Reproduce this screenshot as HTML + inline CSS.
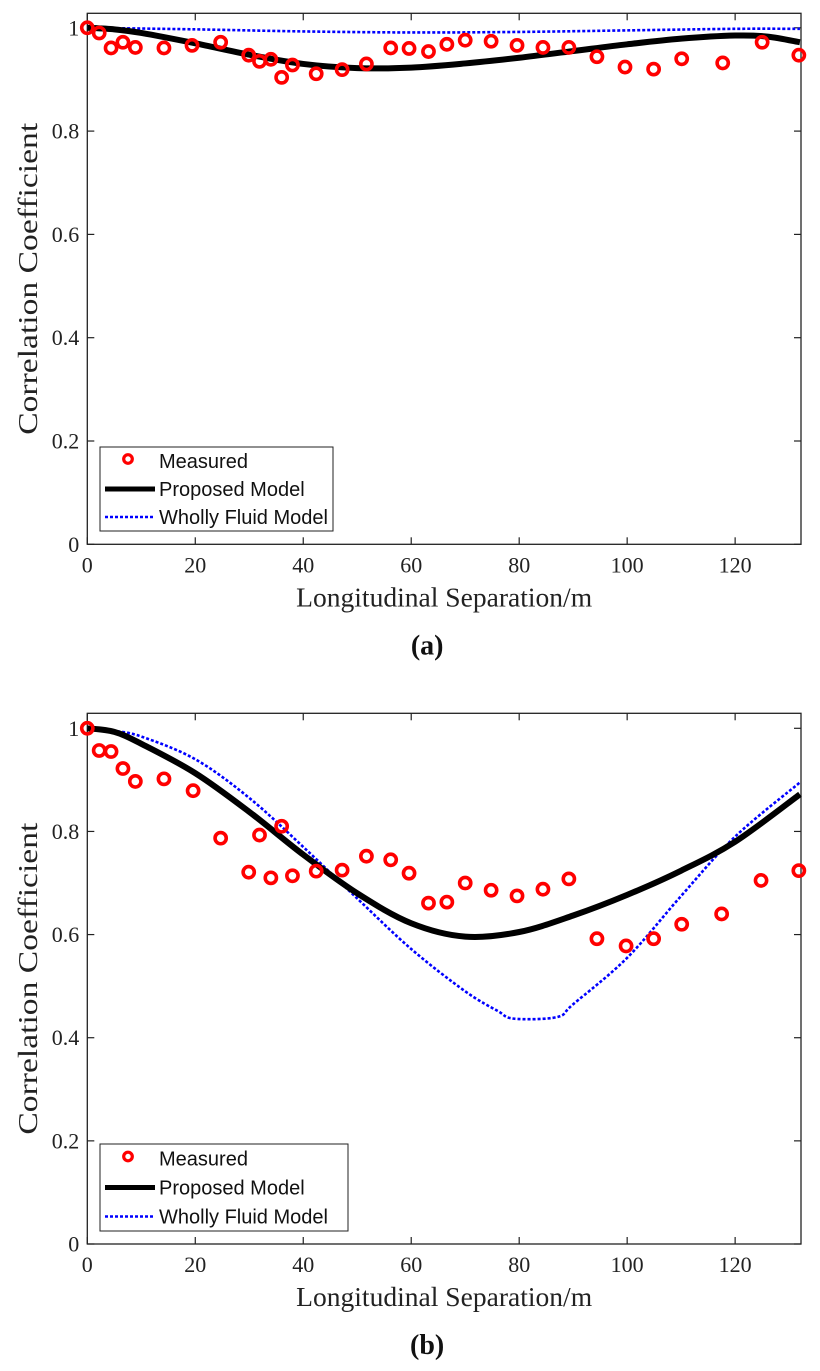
<!DOCTYPE html>
<html><head><meta charset="utf-8"><style>
body{margin:0;background:#fff}
svg{display:block}
</style></head><body>
<svg id="svg" width="820" height="1371" xmlns="http://www.w3.org/2000/svg"></svg>
<script>
// Shared axis data
const xTicks=[0,20,40,60,80,100,120];
const yTicks=[0,0.2,0.4,0.6,0.8,1];
const yTickLabels=["0","0.2","0.4","0.6","0.8","1"];
// Panel (a)
const aMeasX=[0,2.2,4.4,6.6,8.9,14.2,19.4,24.7,29.9,31.9,34,36,38,42.4,47.2,51.7,56.2,59.6,63.2,66.6,70,74.8,79.6,84.4,89.2,94.4,99.6,104.9,110.1,117.7,125,131.8];
const aMeasY=[1,0.99,0.961,0.972,0.962,0.961,0.966,0.972,0.947,0.935,0.939,0.904,0.928,0.911,0.919,0.93,0.961,0.96,0.954,0.968,0.976,0.974,0.966,0.962,0.962,0.944,0.924,0.92,0.94,0.932,0.972,0.947];
const aPropX=[0,5,10,20,30,40,50,60,70,80,90,100,110,120,126,132];
const aPropY=[1,0.997,0.99,0.97,0.948,0.93,0.922,0.923,0.931,0.942,0.955,0.968,0.979,0.985,0.983,0.972];
const aFluidX=[0,20,40,60,80,100,120,132];
const aFluidY=[1,0.997,0.993,0.991,0.992,0.995,0.998,0.998];
// Panel (b)
const bMeasX=[0,2.2,4.4,6.6,8.9,14.2,19.6,24.7,29.9,31.9,34,36,38,42.4,47.2,51.7,56.2,59.6,63.2,66.6,70,74.8,79.6,84.4,89.2,94.4,99.8,104.9,110.1,117.5,124.8,131.8];
const bMeasY=[1,0.957,0.955,0.922,0.897,0.902,0.879,0.787,0.721,0.793,0.71,0.81,0.714,0.723,0.725,0.752,0.745,0.719,0.661,0.663,0.7,0.686,0.675,0.688,0.708,0.592,0.578,0.592,0.62,0.64,0.705,0.724];
const bPropX=[0,5,10,20,30,40,50,60,70,80,90,100,110,120,132];
const bPropY=[1,0.993,0.97,0.913,0.838,0.755,0.68,0.622,0.596,0.605,0.637,0.677,0.724,0.78,0.872];
const bFluidX=[0,5,10,20,30,40,50,60,70,76,79,87,90,100,110,120,132];
const bFluidY=[1,0.995,0.984,0.94,0.865,0.77,0.67,0.572,0.49,0.452,0.437,0.44,0.465,0.555,0.675,0.79,0.895];

const NS="http://www.w3.org/2000/svg";
const svg=document.getElementById('svg');
function mk(tag,attrs,parent){const e=document.createElementNS(NS,tag);for(const k in attrs)e.setAttribute(k,attrs[k]);(parent||svg).appendChild(e);return e;}
const X0=87.3,X1=801,XMAX=132.2,PX=(X1-X0)/XMAX;
function path(xs,ys,sx,sy){
  const p=xs.map((x,i)=>[sx(x),sy(ys[i])]);
  let d=`M${p[0][0]},${p[0][1]}`;
  for(let i=0;i<p.length-1;i++){
    const p0=p[i-1]||p[i],p1=p[i],p2=p[i+1],p3=p[i+2]||p2;
    const c1=[p1[0]+(p2[0]-p0[0])/6,p1[1]+(p2[1]-p0[1])/6];
    const c2=[p2[0]-(p3[0]-p1[0])/6,p2[1]-(p3[1]-p1[1])/6];
    d+=`C${c1[0]},${c1[1]} ${c2[0]},${c2[1]} ${p2[0]},${p2[1]}`;
  }
  return d;
}
function panel(key,top,y1,y0,mx,my,px,py,fx,fy,leg,label){
  const g=mk('g',{});
  
  
  const sx=x=>X0+x*PX, sy=y=>y0-(y0-y1)*y;
  const box=mk('rect',{x:X0,y:top,width:X1-X0,height:y0-top,fill:'none',stroke:'#222','stroke-width':1.3},g);
  
  
  xTicks.forEach(t=>{
    const x=sx(t);
    mk('line',{x1:x,x2:x,y1:y0,y2:y0-7,stroke:'#222','stroke-width':1.2},g);
    mk('line',{x1:x,x2:x,y1:top,y2:top+7,stroke:'#222','stroke-width':1.2},g);
    const tl=mk('text',{x:x,y:y0+28,'text-anchor':'middle','font-family':'Liberation Serif, serif','font-size':22,fill:'#222'},g);
    tl.textContent=t;
    
    
  });
  yTicks.forEach((t,i)=>{
    const y=sy(t);
    mk('line',{x1:X0,x2:X0+7,y1:y,y2:y,stroke:'#222','stroke-width':1.2},g);
    mk('line',{x1:X1,x2:X1-7,y1:y,y2:y,stroke:'#222','stroke-width':1.2},g);
    const tl=mk('text',{x:X0-8,y:y+7.5,'text-anchor':'end','font-family':'Liberation Serif, serif','font-size':22,fill:'#222'},g);
    tl.textContent=yTickLabels[i];
    
    
  });
  const fl=mk('path',{d:path(fx,fy,sx,sy),fill:'none',stroke:'#0000ff','stroke-width':2.6,'stroke-dasharray':'3,2'},g);
  
  
  const pl=mk('path',{d:path(px,py,sx,sy),fill:'none',stroke:'#000','stroke-width':6},g);
  
  
  mx.forEach((x,i)=>{
    const c=mk('circle',{cx:sx(x),cy:sy(my[i]),r:5.6,fill:'none',stroke:'#ff0000','stroke-width':3.6},g);
    
    
  });
  // legend
  const lg=mk('g',{},g);
  
  
  mk('rect',{x:leg[0],y:leg[1],width:leg[2],height:leg[3],fill:'#fff',stroke:'#222','stroke-width':1},lg);
  const rows=['Measured','Proposed Model','Wholly Fluid Model'];
  const rh=leg[3]/3;
  rows.forEach((r,i)=>{
    const cy=leg[1]+rh*(i+0.5);
    if(i==0)mk('circle',{cx:leg[0]+28,cy:cy-2,r:4.3,fill:'none',stroke:'#ff0000','stroke-width':3.2},lg);
    if(i==1)mk('line',{x1:leg[0]+5,x2:leg[0]+55,y1:cy,y2:cy,stroke:'#000','stroke-width':5},lg);
    if(i==2)mk('line',{x1:leg[0]+5,x2:leg[0]+55,y1:cy,y2:cy,stroke:'#0000ff','stroke-width':2.4,'stroke-dasharray':'3,2'},lg);
    const t=mk('text',{x:leg[0]+59,y:cy+7,'font-family':'Liberation Sans, sans-serif','font-size':20,fill:'#111'},lg);
    t.textContent=r;
    
    
  });
  const xl=mk('text',{x:(X0+X1)/2,y:y0+62,'text-anchor':'middle','font-family':'Liberation Serif, serif','font-size':27,fill:'#222',textLength:296,lengthAdjust:'spacingAndGlyphs'},g);
  xl.textContent='Longitudinal Separation/m';
  
  
  const yc=(top+y0)/2;
  const yl=mk('text',{x:37,y:yc,'text-anchor':'middle','font-family':'Liberation Serif, serif','font-size':27,fill:'#222',textLength:312,lengthAdjust:'spacingAndGlyphs',transform:`rotate(-90 37 ${yc})`},g);
  yl.textContent='Correlation Coefficient';
  
  
  const pt=mk('text',{x:(X0+X1)/2-17,y:y0+110,'text-anchor':'middle','font-family':'Liberation Serif, serif','font-size':28,'font-weight':'bold',fill:'#111'},g);
  pt.textContent=label;
  
  
}
panel('a',13.3,27.8,544.3,aMeasX,aMeasY,aPropX,aPropY,aFluidX,aFluidY,[100,447,233,84],'(a)');
panel('b',713.3,728.3,1244,bMeasX,bMeasY,bPropX,bPropY,bFluidX,bFluidY,[100,1144,248,87],'(b)');
</script>
</body></html>
